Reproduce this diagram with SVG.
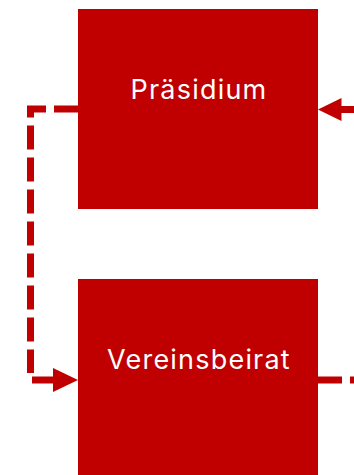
<svg xmlns="http://www.w3.org/2000/svg" width="354" height="475" viewBox="0 0 354 475">
<defs>
<style>
.box{fill:#C00000}
.lbl{fill:#FFFFFF;font-family:Inter,Roboto,"Liberation Sans",sans-serif;font-size:27px;letter-spacing:1.2px;text-anchor:middle}
.dash{fill:none;stroke:#C00000;stroke-width:7;stroke-dasharray:24 8}
.solid{fill:none;stroke:#C00000;stroke-width:7}
.head{fill:#C00000}
</style>
</defs>
<rect width="354" height="475" fill="#FFFFFF"/>
<g id="connectors">
<path class="dash" d="M78,109 H30.5 V373"/>
<path class="solid" d="M32,380 H54"/>
<polygon class="head" points="53,368 78,380 53,392"/>
<path class="solid" d="M354,109.5 H340"/>
<polygon class="head" points="341.5,98 318,109.5 341.5,121"/>
<path class="dash" d="M318,380 H354"/>
</g>
<g id="praesidium">
<rect class="box" x="78" y="9" width="240" height="200"/>
<text class="lbl" x="199" y="99">Präsidium</text>
</g>
<g id="vereinsbeirat">
<rect class="box" x="78" y="279" width="240" height="200"/>
<text class="lbl" x="199" y="369">Vereinsbeirat</text>
</g>
</svg>
